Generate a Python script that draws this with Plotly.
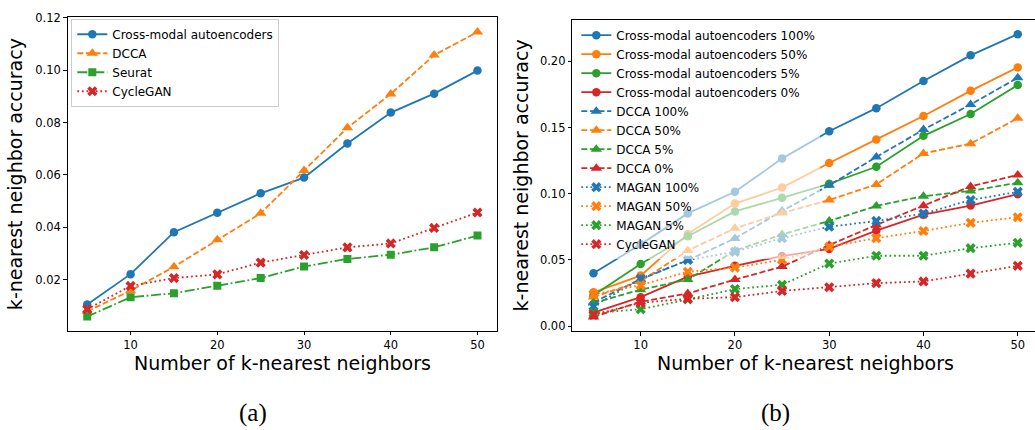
import plotly.graph_objects as go

# ---------------- data ----------------
k_values = [5, 10, 15, 20, 25, 30, 35, 40, 45, 50]

# panel (a)
a_cae = [0.0106, 0.0222, 0.0382, 0.0456, 0.0530, 0.0590, 0.0720, 0.0838, 0.0910, 0.0998]
a_dcca = [0.0080, 0.0159, 0.0250, 0.0353, 0.0454, 0.0617, 0.0780, 0.0909, 0.1057, 0.1145]
a_seurat = [0.0060, 0.0134, 0.0149, 0.0178, 0.0207, 0.0251, 0.0280, 0.0296, 0.0324, 0.0369]
a_cyclegan = [0.0088, 0.0177, 0.0207, 0.0221, 0.0266, 0.0295, 0.0324, 0.0339, 0.0398, 0.0457]

# panel (b)
b_cae_100 = [0.0400, 0.0618, 0.0852, 0.1015, 0.1266, 0.1473, 0.1647, 0.1852, 0.2046, 0.2206]
b_cae_50 = [0.0256, 0.0382, 0.0697, 0.0926, 0.1047, 0.1233, 0.1411, 0.1588, 0.1778, 0.1955]
b_cae_5 = [0.0234, 0.0470, 0.0680, 0.0867, 0.0970, 0.1076, 0.1204, 0.1438, 0.1603, 0.1822]
b_cae_0 = [0.0103, 0.0219, 0.0374, 0.0456, 0.0530, 0.0584, 0.0722, 0.0842, 0.0911, 0.0997]
b_dcca_100 = [0.0180, 0.0355, 0.0498, 0.0663, 0.0870, 0.1064, 0.1278, 0.1485, 0.1675, 0.1876]
b_dcca_50 = [0.0220, 0.0340, 0.0571, 0.0739, 0.0855, 0.0953, 0.1071, 0.1305, 0.1379, 0.1571]
b_dcca_5 = [0.0175, 0.0276, 0.0352, 0.0570, 0.0693, 0.0795, 0.0908, 0.0982, 0.1022, 0.1083]
b_dcca_0 = [0.0070, 0.0185, 0.0247, 0.0352, 0.0450, 0.0612, 0.0765, 0.0909, 0.1056, 0.1143]
b_magan_100 = [0.0150, 0.0358, 0.0500, 0.0561, 0.0665, 0.0751, 0.0795, 0.0850, 0.0953, 0.1015]
b_magan_50 = [0.0240, 0.0310, 0.0411, 0.0443, 0.0502, 0.0600, 0.0665, 0.0719, 0.0781, 0.0823]
b_magan_5 = [0.0100, 0.0128, 0.0202, 0.0280, 0.0313, 0.0473, 0.0532, 0.0532, 0.0589, 0.0630]
b_cyclegan = [0.0085, 0.0177, 0.0207, 0.0219, 0.0266, 0.0294, 0.0325, 0.0338, 0.0397, 0.0456]

x_title = "Number of k-nearest neighbors"
y_title = "k-nearest neighbor accuracy"

# ---------------- styles ----------------
BLUE, ORANGE, GREEN, RED = "#1f77b4", "#ff7f0e", "#2ca02c", "#d62728"
DASH = "6px,2.6px"
DOT = "1.8px,2.8px"
DASHDOT = "10px,2.6px,1.8px,2.6px"
LW = 1.8
FONT = "DejaVu Sans"

W, H = 1035, 430


def px_x(p):
    return p / W


def px_y(p):
    return 1 - p / H


fig = go.Figure()


def add(x, y, name, color, dash, symbol, size, xa, ya, legend):
    fig.add_trace(go.Scatter(
        x=x, y=y, name=name, mode="lines+markers",
        line=dict(color=color, width=LW, dash=dash),
        marker=dict(symbol=symbol, size=size, color=color),
        xaxis=xa, yaxis=ya, legend=legend,
    ))


CIRC, TRI, SQ, XS = 8.5, 10, 8, 9

# panel (a)
add(k_values, a_cae, "Cross-modal autoencoders", BLUE, "solid", "circle", CIRC, "x", "y", "legend")
add(k_values, a_dcca, "DCCA", ORANGE, DASH, "triangle-up", TRI, "x", "y", "legend")
add(k_values, a_seurat, "Seurat", GREEN, DASHDOT, "square", SQ, "x", "y", "legend")
add(k_values, a_cyclegan, "CycleGAN", RED, DOT, "x", XS, "x", "y", "legend")

# panel (b)
series_b = [
    (b_cae_100, "Cross-modal autoencoders 100%", BLUE, "solid", "circle", CIRC),
    (b_cae_50, "Cross-modal autoencoders 50%", ORANGE, "solid", "circle", CIRC),
    (b_cae_5, "Cross-modal autoencoders 5%", GREEN, "solid", "circle", CIRC),
    (b_cae_0, "Cross-modal autoencoders 0%", RED, "solid", "circle", CIRC),
    (b_dcca_100, "DCCA 100%", BLUE, DASH, "triangle-up", TRI),
    (b_dcca_50, "DCCA 50%", ORANGE, DASH, "triangle-up", TRI),
    (b_dcca_5, "DCCA 5%", GREEN, DASH, "triangle-up", TRI),
    (b_dcca_0, "DCCA 0%", RED, DASH, "triangle-up", TRI),
    (b_magan_100, "MAGAN 100%", BLUE, DOT, "x", XS),
    (b_magan_50, "MAGAN 50%", ORANGE, DOT, "x", XS),
    (b_magan_5, "MAGAN 5%", GREEN, DOT, "x", XS),
    (b_cyclegan, "CycleGAN", RED, DOT, "x", XS),
]
for ys, nm, c, d, s, sz in series_b:
    add(k_values, ys, nm, c, d, s, sz, "x2", "y2", "legend2")

axis_common = dict(
    showgrid=False, zeroline=False, showline=True, linecolor="black", linewidth=1,
    ticks="outside", ticklen=3.5, tickwidth=1, tickcolor="black",
    tickfont=dict(family=FONT, size=11.5, color="black"),
)

fig.update_layout(
    width=W, height=H,
    margin=dict(l=0, r=0, t=0, b=0),
    paper_bgcolor="white", plot_bgcolor="white",
    font=dict(family=FONT, color="black"),
    xaxis=dict(domain=[px_x(67.7), px_x(497)], range=[2.75, 52.25], anchor="y",
               tickvals=[10, 20, 30, 40, 50], mirror=True, **axis_common),
    yaxis=dict(domain=[px_y(330.7), px_y(10.7)], range=[0.0006, 0.12005], anchor="x",
               tickvals=[0.02, 0.04, 0.06, 0.08, 0.10, 0.12], tickformat=".2f",
               mirror=True, **axis_common),
    xaxis2=dict(domain=[px_x(572.3), 1.0], range=[2.75, 51.83], anchor="y2",
                tickvals=[10, 20, 30, 40, 50], mirror=True, **axis_common),
    yaxis2=dict(domain=[px_y(331), px_y(13.3)], range=[-0.0037, 0.2313], anchor="x2",
                tickvals=[0.0, 0.05, 0.10, 0.15, 0.20], tickformat=".2f",
                mirror=False, **axis_common),
    legend=dict(x=px_x(71.3), y=px_y(12), xanchor="left", yanchor="top",
                bgcolor="rgba(255,255,255,0.8)", bordercolor="#cccccc", borderwidth=1,
                font=dict(family=FONT, size=12, color="black"), traceorder="normal"),
    legend2=dict(x=px_x(576.3), y=px_y(14), xanchor="left", yanchor="top",
                 bgcolor="rgba(255,255,255,0.6)", borderwidth=0,
                 font=dict(family=FONT, size=12, color="black"), traceorder="normal"),
    showlegend=True,
)

ann_font = dict(family=FONT, size=19, color="black")
serif = dict(family="Liberation Serif", size=25, color="black")
annotations = [
    dict(text=x_title, x=px_x(282.4), y=px_y(364), font=ann_font),
    dict(text=x_title, x=px_x(805.6), y=px_y(364), font=ann_font),
    dict(text=y_title, x=px_x(15), y=px_y(170.7), textangle=-90, font=ann_font),
    dict(text=y_title, x=px_x(521), y=px_y(172), textangle=-90, font=ann_font),
    dict(text="(a)", x=px_x(252.8), y=px_y(415), font=serif),
    dict(text="(b)", x=px_x(775.8), y=px_y(415), font=serif),
]
for a in annotations:
    fig.add_annotation(xref="paper", yref="paper", xanchor="center", yanchor="middle",
                       showarrow=False, **a)

fig.write_html("out.html", config={"displayModeBar": False},
               post_script="document.body.style.margin='0';")
